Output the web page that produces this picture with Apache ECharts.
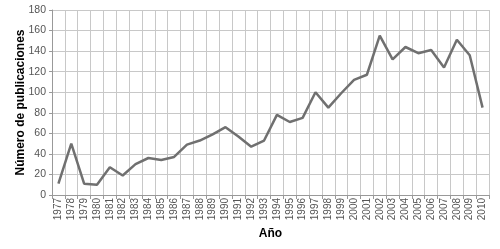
<!DOCTYPE html>
<html><head><meta charset="utf-8">
<script src="https://cdn.jsdelivr.net/npm/echarts@6/dist/echarts.min.js"></script>
<style>html,body{margin:0;padding:0;background:#fff}#c{width:500px;height:249px}</style>
</head><body><div id="c"></div>
<script>
const years = ['1977','1978','1979','1980','1981','1982','1983','1984','1985','1986','1987','1988','1989','1990','1991','1992','1993','1994','1995','1996','1997','1998','1999','2000','2001','2002','2003','2004','2005','2006','2007','2008','2009','2010'];
const publicaciones = [11,50,11,10,27,19,30,36,34,37,49,53,59,66,57,47,53,78,71,75,100,85,99,112,117,155,132,144,138,141,124,151,136,85];
const yTicks = {min:0, max:180, interval:20};

const chart = echarts.init(document.getElementById('c'), null, {renderer:'canvas'});
chart.setOption({
  animation:false,
  grid:{left:52, right:11, top:10, bottom:54, containLabel:false, outerBoundsMode:'none'},
  xAxis:{
    type:'category', data:years, boundaryGap:true,
    name:'Año', nameLocation:'middle', nameGap:32,
    nameTextStyle:{fontFamily:'Liberation Sans', fontWeight:'bold', fontSize:12, color:'#000'},
    axisLine:{lineStyle:{color:'#999', width:1}},
    axisTick:{show:true, length:4, lineStyle:{color:'#999'}, alignWithLabel:false},
    axisLabel:{rotate:90, interval:0, fontFamily:'Liberation Sans', fontSize:10, color:'#555', margin:3},
    splitLine:{show:true, interval:0, lineStyle:{color:'#c8c8c8', width:1}}
  },
  yAxis:{
    type:'value', min:yTicks.min, max:yTicks.max, interval:yTicks.interval,
    name:'Número de publicaciones', nameLocation:'middle', nameGap:25, nameMoveOverlap:false,
    nameTextStyle:{fontFamily:'Liberation Sans', fontWeight:'bold', fontSize:12, color:'#000'},
    axisLine:{show:true, lineStyle:{color:'#999'}},
    axisTick:{show:true, length:3, lineStyle:{color:'#999'}},
    axisLabel:{fontFamily:'Liberation Sans', fontSize:10.5, color:'#555', margin:6},
    splitLine:{show:true, lineStyle:{color:'#c8c8c8', width:1}}
  },
  series:[{
    type:'line', data:publicaciones, symbol:'none',
    lineStyle:{color:'#707070', width:2.5}
  }]
});
</script></body></html>
